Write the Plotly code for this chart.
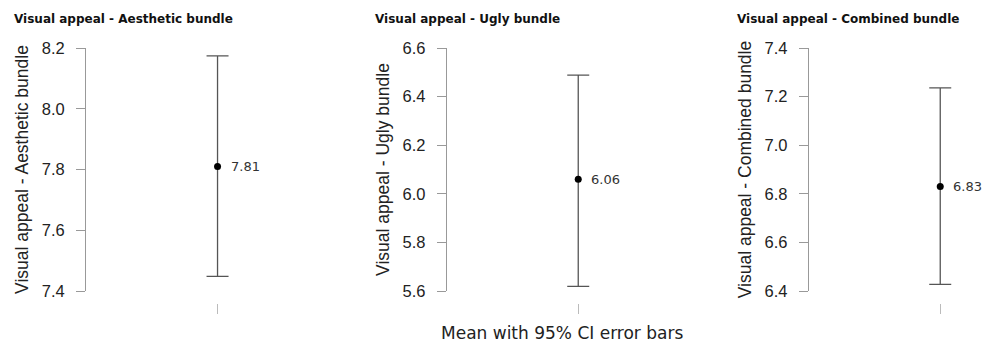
import plotly.graph_objects as go

titles = ["Visual appeal - Aesthetic bundle", "Visual appeal - Ugly bundle", "Visual appeal - Combined bundle"]
means = [7.81, 6.06, 6.83]
ci_low = [7.448, 5.619, 6.427]
ci_high = [8.174, 6.488, 7.236]
y_ticks = [[7.4, 7.6, 7.8, 8.0, 8.2], [5.6, 5.8, 6.0, 6.2, 6.4, 6.6], [6.4, 6.6, 6.8, 7.0, 7.2, 7.4]]
x_label = "Mean with 95% CI error bars"

W, H = 987, 342
axis_px = [86, 446.7, 808.7]
panel_w = 171
top_px, plot_bottom_px, paper_bottom_px = 47.7, 291, 303
paper_h = paper_bottom_px - top_px
ydom_low = (paper_bottom_px - plot_bottom_px) / paper_h

fig = go.Figure()
for i in range(3):
    sfx = "" if i == 0 else str(i + 1)
    fig.add_trace(go.Scatter(
        x=[0], y=[means[i]], mode="markers",
        marker=dict(color="black", size=7),
        error_y=dict(type="data", symmetric=False,
                     array=[ci_high[i] - means[i]], arrayminus=[means[i] - ci_low[i]],
                     color="#555", thickness=1.3, width=11),
        xaxis="x" + sfx, yaxis="y" + sfx, showlegend=False, cliponaxis=False))
    fig.add_annotation(text=f"{means[i]:.2f}", xref="x" + sfx, yref="y" + sfx,
                       x=0, y=means[i], xanchor="left", yanchor="middle", xshift=11,
                       showarrow=False,
                       font=dict(family="DejaVu Sans", size=13, color="#333"))
    x0 = axis_px[i] / W
    x1 = (axis_px[i] + panel_w) / W
    fig.layout["xaxis" + sfx] = dict(
        domain=[x0, x1], range=[-1, 0.3], anchor="free", position=0,
        showgrid=False, zeroline=False, showline=False, showticklabels=False,
        tickvals=[0], ticks="outside", ticklen=10, tickcolor="#bbb", tickwidth=1)
    fig.layout["yaxis" + sfx] = dict(
        domain=[ydom_low, 1], range=[y_ticks[i][0], y_ticks[i][-1]],
        anchor="x" + sfx, tickvals=y_ticks[i], ticktext=[f"{v:.1f}" for v in y_ticks[i]],
        showgrid=False, zeroline=False, showline=True, linecolor="#999", linewidth=1,
        ticks="outside", ticklen=9, tickcolor="#999", ticklabelstandoff=8,
        tickfont=dict(family="Liberation Sans", size=16.5, color="#222"),
        title=dict(text=titles[i], standoff=8,
                   font=dict(family="Liberation Sans", size=17.5, color="#222")))
    fig.add_annotation(text="<b>" + titles[i] + "</b>", xref="paper", yref="paper",
                       x=(axis_px[i] - 74) / W, xanchor="left",
                       y=1 + (top_px - 19) / paper_h, yanchor="middle", showarrow=False,
                       font=dict(family="DejaVu Sans", size=12, color="#111"))

fig.add_annotation(text=x_label, xref="paper", yref="paper", x=562 / W, xanchor="center",
                   y=-(333 - paper_bottom_px) / paper_h, yanchor="middle", showarrow=False,
                   font=dict(family="DejaVu Sans", size=17, color="#222"))

fig.update_layout(width=W, height=H, paper_bgcolor="white", plot_bgcolor="white",
                  margin=dict(l=0, r=0, t=top_px, b=H - paper_bottom_px, autoexpand=False))
fig.write_html("out.html")
